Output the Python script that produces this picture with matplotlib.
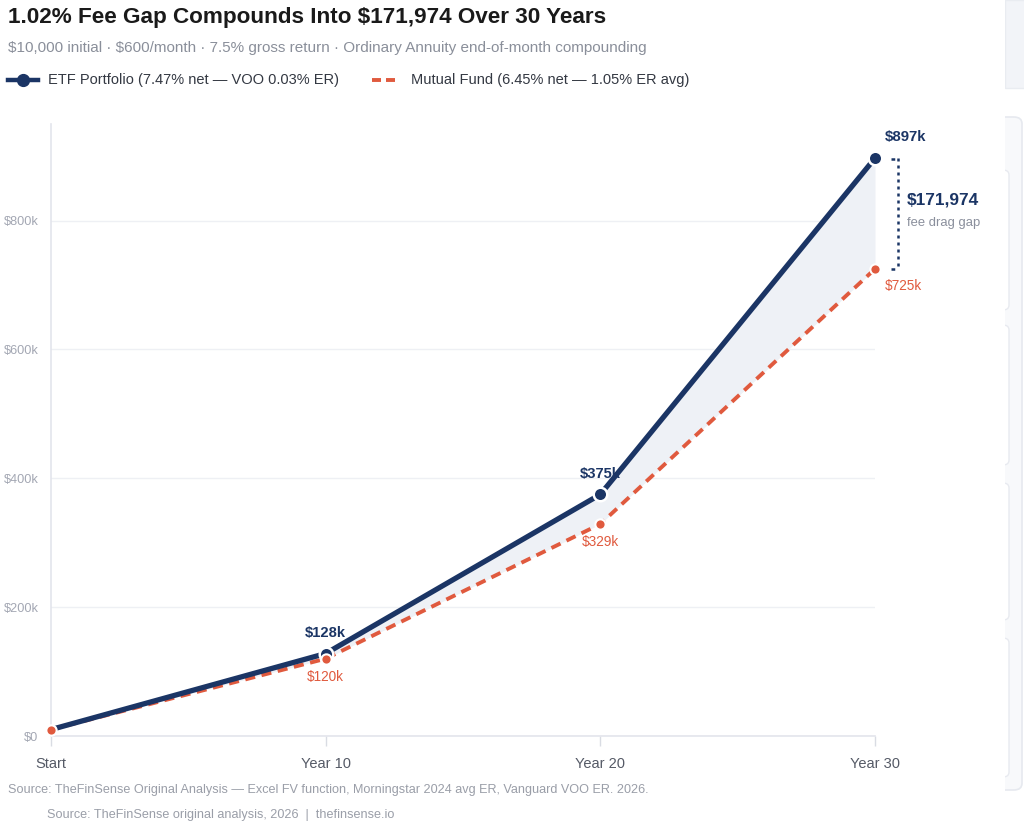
import matplotlib
matplotlib.use("Agg")
import matplotlib.pyplot as plt
from matplotlib.patches import FancyBboxPatch, Rectangle
from matplotlib.lines import Line2D
from matplotlib.transforms import offset_copy

plt.rcParams['font.family'] = ['Liberation Sans', 'DejaVu Sans']
plt.rcParams['text.parse_math'] = False

categories = ["Start", "Year 10", "Year 20", "Year 30"]
etf_values = [10000, 128000, 375000, 897000]
mf_values = [10000, 120000, 329000, 725000]
etf_labels = ["", "$128k", "$375k", "$897k"]
mf_labels = ["", "$120k", "$329k", "$725k"]
yticks = [0, 200000, 400000, 600000, 800000]
ytick_labels = ["$0", "$200k", "$400k", "$600k", "$800k"]
gap_label = "$171,974"

NAVY = "#1b3565"
RED = "#e05a3e"
GRID = "#eef0f4"
TICK = "#a3a7b3"

W, H = 1024, 830
fig = plt.figure(figsize=(W / 100, H / 100), dpi=100)
fig.patch.set_facecolor("white")

def fx(px):
    return px / W

def fy(py):
    return 1 - py / H

# webpage side panels (faint)
fig.patches.append(Rectangle((fx(1005), fy(88)), fx(25), 88 / H, transform=fig.transFigure,
                             facecolor="#f2f4f8", edgecolor="#e9ecf1", lw=1, zorder=-4))
fig.patches.append(FancyBboxPatch((fx(995), fy(790)), fx(27), (790 - 117) / H,
                                  boxstyle="round,pad=0,rounding_size=0.008",
                                  transform=fig.transFigure, facecolor="#f8f9fb",
                                  edgecolor="#e6e9ef", lw=1.2, zorder=-3))
for top, bot in [(170, 310), (325, 465), (483, 620), (638, 777)]:
    fig.patches.append(FancyBboxPatch((fx(985), fy(bot)), fx(24), (bot - top) / H,
                                      boxstyle="round,pad=0,rounding_size=0.006",
                                      transform=fig.transFigure, facecolor="white",
                                      edgecolor="#e8eaf0", lw=1.0, zorder=-2))
fig.patches.append(Rectangle((0, 0), fx(1005), 1, transform=fig.transFigure,
                             facecolor="white", edgecolor="none", zorder=-1))

ax = fig.add_axes([fx(51), fy(736), fx(875 - 51), (736 - 124) / H])
ax.patch.set_alpha(0)
x = list(range(len(categories)))

ax.fill_between(x, mf_values, etf_values, color="#eef1f6", zorder=1, lw=0)
ax.plot(x, mf_values, color=RED, lw=2.8, ls=(0, (2.6, 1.7)), zorder=3, dash_capstyle="butt")
ax.plot(x, etf_values, color=NAVY, lw=3.8, zorder=4, solid_capstyle="round")
ax.scatter(x[1:], etf_values[1:], s=95, color=NAVY, edgecolor="white", linewidth=1.8, zorder=5, clip_on=False)
ax.scatter(x, mf_values, s=55, color=RED, edgecolor="white", linewidth=1.5, zorder=6, clip_on=False)

ax.set_xlim(0, 3)
ax.set_ylim(0, 950000)
ax.set_xticks(x)
ax.set_xticklabels(categories)
ax.set_yticks(yticks)
ax.set_yticklabels(ytick_labels)
ax.tick_params(axis="x", colors="#d9dce3", labelcolor="#555a66", labelsize=10.5, length=7, width=1, pad=8)
ax.tick_params(axis="y", length=0, labelcolor=TICK, labelsize=9.2, pad=9)
ax.grid(axis="y", color=GRID, lw=1)
ax.set_axisbelow(True)
for s in ["top", "right"]:
    ax.spines[s].set_visible(False)
for s in ["left", "bottom"]:
    ax.spines[s].set_color("#e3e5ec")
    ax.spines[s].set_linewidth(1.2)

# point labels
for i in [1, 2]:
    ax.annotate(etf_labels[i], (x[i], etf_values[i]), xytext=(0, 10), textcoords="offset points",
                ha="center", va="bottom", color=NAVY, fontsize=10.6, fontweight="bold", zorder=7)
    ax.annotate(mf_labels[i], (x[i], mf_values[i]), xytext=(0, -8), textcoords="offset points",
                ha="center", va="top", color=RED, fontsize=9.8, zorder=7)
ax.annotate(etf_labels[3], (x[3], etf_values[3]), xytext=(7, 10), textcoords="offset points",
            ha="left", va="bottom", color=NAVY, fontsize=10.8, fontweight="bold", annotation_clip=False)
ax.annotate(mf_labels[3], (x[3], mf_values[3]), xytext=(7, -7), textcoords="offset points",
            ha="left", va="top", color=RED, fontsize=9.8, annotation_clip=False)

# gap bracket
bx = offset_copy(ax.transData, fig=fig, x=23, y=0, units="dots")
ax.plot([3, 3], [etf_values[3], mf_values[3]], transform=bx, color=NAVY, lw=1.8,
        ls=(0, (1.2, 1.6)), clip_on=False)
for py in [159, 269]:
    fig.lines.append(Line2D([fx(891), fx(898)], [fy(py), fy(py)], transform=fig.transFigure,
                            color=NAVY, lw=1.8, ls=(0, (1.5, 1.5))))
fig.text(fx(907), fy(200), gap_label, ha="left", va="center", color=NAVY, fontsize=12.4, fontweight="bold")
fig.text(fx(907), fy(223), "fee drag gap", ha="left", va="center", color="#8a8f9c", fontsize=9.4)

# title, subtitle, legend
fig.text(fx(8), fy(18), "1.02% Fee Gap Compounds Into $171,974 Over 30 Years", ha="left", va="center",
         fontsize=16.2, fontweight="bold", color="#1a1a1a")
fig.text(fx(8), fy(48), "$10,000 initial · $600/month · 7.5% gross return · Ordinary Annuity end-of-month compounding",
         ha="left", va="center", fontsize=11.0, color="#8a8f9a")
fig.lines.append(Line2D([fx(8), fx(38)], [fy(80), fy(80)], transform=fig.transFigure, color=NAVY, lw=3.2))
fig.lines.append(Line2D([fx(23)], [fy(80)], transform=fig.transFigure, color=NAVY, lw=0,
                        marker="o", markersize=8.5))
fig.text(fx(48), fy(80), "ETF Portfolio (7.47% net — VOO 0.03% ER)", ha="left", va="center",
         fontsize=10.5, color="#333842")
for x0, x1 in [(372, 381), (386, 395)]:
    fig.lines.append(Line2D([fx(x0), fx(x1)], [fy(80), fy(80)], transform=fig.transFigure, color=RED,
                            lw=2.8, solid_capstyle="butt"))
fig.text(fx(411), fy(80), "Mutual Fund (6.45% net — 1.05% ER avg)", ha="left", va="center",
         fontsize=10.5, color="#333842")

# sources
fig.text(fx(8), fy(790), "Source: TheFinSense Original Analysis — Excel FV function, Morningstar 2024 avg ER, Vanguard VOO ER. 2026.",
         ha="left", va="center", fontsize=9.1, color="#9a9ea8")
fig.text(fx(47), fy(815), "Source: TheFinSense original analysis, 2026  |  thefinsense.io",
         ha="left", va="center", fontsize=9.1, color="#9a9ea8")

fig.savefig("out.png", dpi=100, facecolor="white")
